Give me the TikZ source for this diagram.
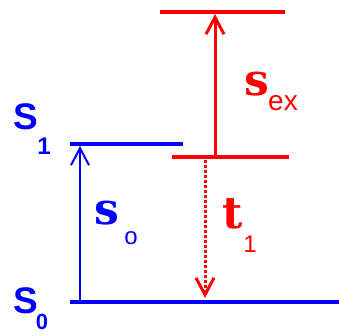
\documentclass[tikz,border=0pt]{standalone}
\usepackage{fontspec}
\setmainfont{Liberation Serif}
\setsansfont{Liberation Sans}
\newfontfamily\symfont{DejaVu Serif}
\usetikzlibrary{arrows.meta,positioning}

\begin{document}
\begin{tikzpicture}[
x=1pt, y=-1pt,
level/.style={line width=4.5pt},
sing/.style={blue},
trip/.style={red},
lbl/.style={font=\fontsize{37}{37}\sffamily\bfseries, inner sep=0pt},
sym/.style={font=\fontsize{44}{44}\symfont\bfseries, inner sep=0pt},
sub/.style={font=\fontsize{24}{24}\sffamily, inner sep=0pt},
seta/.style={-{Straight Barb[length=17pt, width=18pt]}}
]
\useasboundingbox (0,0) rectangle (339,335);

% niveis
\coordinate (s1a) at (70,144);
\coordinate (s1b) at (183,144);
\coordinate (s0a) at (70,302);
\coordinate (s0b) at (339,302);
\coordinate (t1a) at (172,157);
\coordinate (t1b) at (289,157);
\coordinate (tna) at (160,12);
\coordinate (tnb) at (285,12);

\draw[level, sing] (s1a) -- (s1b);
\draw[level, sing, line width=4pt] (s0a) -- (s0b);
\draw[level, trip, line width=4pt] (t1a) -- (t1b);
\draw[level, trip, line width=4pt] (tna) -- (tnb);

% setas
\coordinate (abs0) at (80,300);
\coordinate (abs1) at (80,146);
\coordinate (ex0) at (215,155);
\coordinate (ex1) at (215,14);
\coordinate (ph0) at (205,160);
\coordinate (ph1) at (205,298);

\draw[seta, sing, line width=2pt] (abs0) -- (abs1);
\draw[seta, trip, line width=3pt] (ex0) -- (ex1);
\draw[seta, trip, line width=3pt, dotted] (ph0) -- (ph1);

% rotulos
\node[lbl, sing] (S1) at (26,117) {S};
\node[sub, sing, font=\fontsize{24}{24}\sffamily\bfseries] (S1i) at (44,146) {1};
\node[lbl, sing] (S0) at (26,301) {S};
\node[sub, sing, font=\fontsize{22}{22}\sffamily\bfseries] (S0i) at (42,322) {0};

\node[sym, sing, anchor=base] (so) at (107,224) {s};
\node[sub, sing, anchor=base] (soi) at (131,244) {o};
\node[sym, trip, anchor=base] (t1) at (233,228) {t};
\node[sub, trip, anchor=base] (t1i) at (250,252) {1};
\node[sym, trip, anchor=base] (sex) at (257,95) {s};
\node[sub, trip, anchor=base, font=\fontsize{28}{28}\sffamily] (sexi) at (283,110) {ex};
\end{tikzpicture}
\end{document}
